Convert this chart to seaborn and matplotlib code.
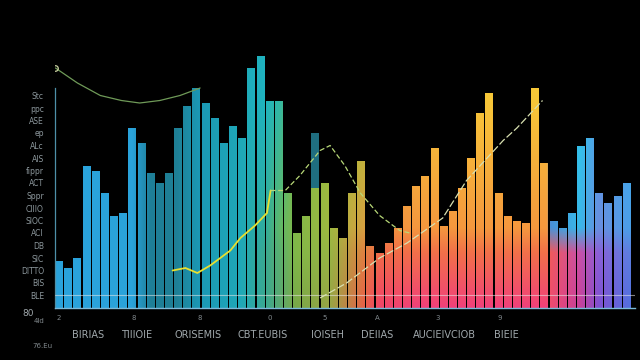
import numpy as np
import pandas as pd
import matplotlib
matplotlib.use("Agg")
import matplotlib.pyplot as plt
import matplotlib.colors as mcolors
import seaborn as sns

# Données
valeurs = [19, 16, 20, 57, 55, 46, 37, 38, 72, 66,
           54, 50, 54, 72, 81, 88, 82, 76, 66, 73,
           68, 96, 101, 83, 83, 46, 30, 37, 70, 50,
           32, 28, 46, 59, 25, 22, 26, 32, 41, 49,
           53, 64, 33, 39, 48, 60, 78, 86, 46, 37,
           35, 34, 88, 58, 35, 32, 38, 65, 68, 46,
           42, 45, 50]
barres = list(range(len(valeurs)))

ligne1_x = [-0.4, 2.0, 4.5, 6.8, 8.8, 11.0, 13.2, 15.4]
ligne1_y = [96, 90, 85, 83, 82, 83, 85, 88]

ligne2_x = [12.4, 13.8, 15.1, 16.5, 17.6, 18.7, 19.8, 21.4, 22.7, 23.1]
ligne2_y = [15, 16, 14, 17, 20, 23, 28, 33, 38, 47]

ligne3_x = [23.1, 24.7, 26.3, 28.5, 29.6, 31.2, 32.9, 35.0, 37.2, 38.3]
ligne3_y = [47, 47, 53, 63, 65, 57, 46, 37, 31, 30]

ligne4_x = [28.5, 31.4, 35.0, 38.0, 41.9, 44.5, 48.5, 50.0, 52.8]
ligne4_y = [4, 10, 20, 26, 36, 51, 67, 72, 83]

etiquettes_x = ["BIRIAS", "TIIIOIE", "ORISEMIS", "CBT.EUBIS",
                "IOISEH", "DEIIAS", "AUCIEIVCIOB", "BIEIE"]
pos_etiquettes_x = [3.2, 8.5, 15.2, 22.2, 29.3, 34.7, 42.1, 48.9]
chiffres_x = ["2", "8", "8", "0", "5", "A", "3", "9"]
pos_chiffres_x = [-0.1, 8.2, 15.4, 23.0, 29.0, 34.7, 41.3, 48.1]

etiquettes_y = ["BLE", "BIS", "DITTO", "SIC", "DB", "ACI", "SIOC", "CIIIO",
                "Sppr", "ACT", "fippr", "AIS", "ALc", "ep", "ASE", "ppc", "Stc"]
valeurs_y = [5, 10, 15, 20, 25, 30, 35, 40, 45, 50, 55, 60, 65, 70, 75, 80, 85]

df = pd.DataFrame({"barre": barres, "valeur": valeurs})

sns.set_theme(style="dark")
plt.rcParams["font.family"] = ["DejaVu Sans"]

fig = plt.figure(figsize=(6.4, 3.6), dpi=100, facecolor="black")
ax = fig.add_axes([55 / 640, 52 / 360, 580 / 640, 263 / 360])
ax.set_facecolor("black")

sns.barplot(data=df, x="barre", y="valeur", color="white", width=0.87,
            ax=ax, saturation=1)

xmin, xmax = -0.45, 62.9
ymin, ymax = 0, 105.2

# Champ de couleurs : 4 paliers verticaux, chacun interpolé le long de x
nx, ny = 640, 300
gx = np.linspace(xmin, xmax, nx)
gy = np.linspace(ymin, ymax, ny)

pts = [-0.4, 8.0, 9.9, 12.7, 15.4, 19.8, 22.5, 24.1, 25.8, 29.6,
       33.4, 35.0, 39.4, 46.0, 53.4, 53.6, 56.9, 59.0, 62.6]
paliers_v = [0, 22, 32, 85]
paliers = [
    ["#2aa3dc", "#2aa2da", "#1e7f98", "#1f7f95", "#1b98b5", "#1fa8b8",
     "#3aa890", "#5aa870", "#78a848", "#98a444", "#e86048", "#f04468",
     "#f0407a", "#f0407a", "#f0407a", "#f04a70", "#c84098", "#8050d0",
     "#5070e0"],
    ["#2aa3dc", "#2aa2da", "#1e7f98", "#1f7f95", "#1b98b5", "#1fa8b8",
     "#3aa890", "#5ab070", "#80b848", "#98b444", "#e08040", "#f06a48",
     "#f2704a", "#f2704a", "#f2704a", "#f05a5a", "#c850a8", "#8a60d8",
     "#5a80e0"],
    ["#2aa3dc", "#2aa2da", "#1e7f98", "#1f7f95", "#1b98b5", "#1fa8b8",
     "#30ac9c", "#60b868", "#80b848", "#a0b840", "#d8a040", "#f09040",
     "#f5983e", "#f5983e", "#f5983e", "#4a90d8", "#38b8e8", "#6a8ee0",
     "#48a0e8"],
    ["#2aa6de", "#2aa4dc", "#1e7f98", "#1f7f95", "#1b98b5", "#1fa8b8",
     "#1fb4c0", "#2fb8a8", "#80b848", "#a0c040", "#b0c038", "#f0b038",
     "#f8c838", "#f8c838", "#f8c838", "#4a90d8", "#30c8ec", "#50a0e8",
     "#40b0ec"],
]
couches = []
for cols in paliers:
    rgb = np.array([mcolors.to_rgb(c) for c in cols])
    couches.append(np.stack([np.interp(gx, pts, rgb[:, k]) for k in range(3)], axis=-1))
couches = np.array(couches)  # (4, nx, 3)

f = np.interp(gy, paliers_v, np.arange(len(paliers_v)))
i0 = np.floor(f).astype(int).clip(0, len(paliers_v) - 2)
w = (f - i0)[:, None, None]
champ = couches[i0] * (1 - w) + couches[i0 + 1] * w

for p in list(ax.patches):
    p.set_facecolor("none")
    p.set_edgecolor("none")
    im = ax.imshow(champ, extent=[xmin, xmax, ymin, ymax], origin="lower",
                   aspect="auto", zorder=1.5, interpolation="bilinear")
    im.set_clip_path(p)

# sommet sombre de la barre 28
ax.bar([28], [22], bottom=[48], width=0.87, color="#1f6e80",
       edgecolor="none", linewidth=0, zorder=1.6)

ax.axhline(5.2, color="#e8e8e8", alpha=0.55, lw=0.8, zorder=3)

# Courbes
sns.lineplot(x=ligne1_x, y=ligne1_y, ax=ax, color="#6f9a58", lw=0.9,
             estimator=None, sort=False, zorder=4)
ax.plot([-0.4], [96], marker="o", ms=4, mfc="none", mec="#c8d0a0", mew=0.9, zorder=5)
sns.lineplot(x=ligne2_x, y=ligne2_y, ax=ax, color="#e8e030", lw=1.3,
             estimator=None, sort=False, zorder=4)
sns.lineplot(x=ligne3_x, y=ligne3_y, ax=ax, color="#b8d878", lw=0.9,
             estimator=None, sort=False, zorder=4, linestyle=(0, (4, 2)))
sns.lineplot(x=ligne4_x, y=ligne4_y, ax=ax, color="#d8e0b0", lw=0.9,
             estimator=None, sort=False, zorder=4, linestyle=(0, (6, 2)))

ax.set_xlim(xmin, xmax)
ax.set_ylim(ymin, ymax)
ax.grid(False)

ax.set_xticks([])
ax.set_yticks(valeurs_y)
ax.set_yticklabels(etiquettes_y, fontsize=5.5, color="#8c979c")
ax.tick_params(axis="y", length=3, width=0.6, color="#5a7a80", pad=5)
ax.set_xlabel("")
ax.set_ylabel("")

for s in ["top", "right"]:
    ax.spines[s].set_visible(False)
ax.spines["left"].set_color("#4e90a8")
ax.spines["left"].set_linewidth(0.9)
ax.spines["left"].set_bounds(0, 88)
ax.spines["bottom"].set_color("#7ab8d8")
ax.spines["bottom"].set_linewidth(1.0)

trans = matplotlib.transforms.blended_transform_factory(ax.transData, ax.transAxes)
for txt, xp in zip(etiquettes_x, pos_etiquettes_x):
    ax.text(xp, -0.103, txt, transform=trans, ha="center", va="center",
            fontsize=7, color="#a0a8ac")
for txt, xp in zip(chiffres_x, pos_chiffres_x):
    ax.text(xp, -0.038, txt, transform=trans, ha="center", va="center",
            fontsize=5, color="#80888c")

fig.text(22 / 640, 1 - 313 / 360, "80", fontsize=6.5, color="#a0a8ac", va="center")
fig.text(34 / 640, 1 - 321 / 360, "4ld", fontsize=5, color="#80888c", va="center")
fig.text(32 / 640, 1 - 346 / 360, "76.Eu", fontsize=5, color="#80888c", va="center")

fig.savefig("out.png", dpi=100, facecolor="black")
